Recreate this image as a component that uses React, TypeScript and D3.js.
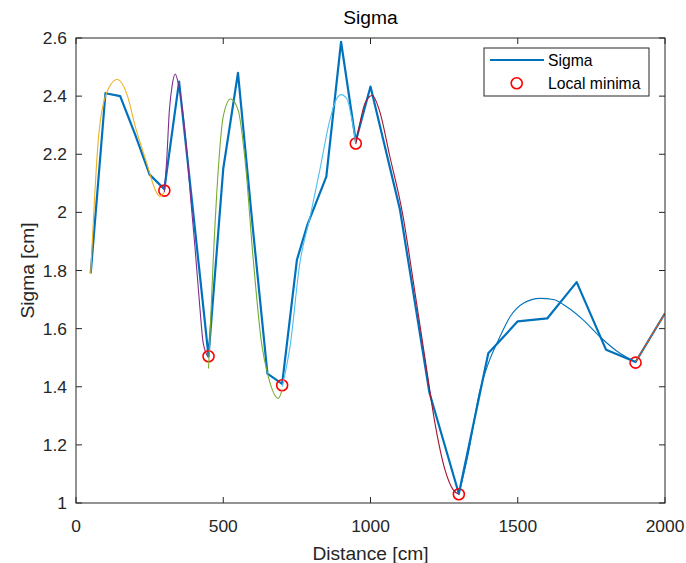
import React from "react";
import * as d3 from "d3";

// ---- data ----
const sigmaX = [50, 100, 150, 200, 250, 300, 350, 400, 450, 500, 550, 600, 650, 700, 750, 785, 850, 900, 950, 1000, 1100, 1200, 1300, 1400, 1500, 1600, 1700, 1800, 1900, 2000];
const sigmaY = [1.79, 2.41, 2.4, 2.27, 2.13, 2.08, 2.45, 1.98, 1.505, 2.15, 2.48, 1.95, 1.445, 1.41, 1.836, 1.955, 2.123, 2.587, 2.245, 2.433, 2.01, 1.38, 1.032, 1.515, 1.625, 1.635, 1.76, 1.527, 1.485, 1.653];

const minimaX = [300, 450, 700, 950, 1300, 1900];
const minimaY = [2.075, 1.505, 1.405, 2.237, 1.03, 1.483];

const fit1X = [50, 75, 100, 140, 175, 200, 240, 270, 285, 300];
const fit1Y = [1.79, 2.24, 2.4, 2.457, 2.4, 2.3, 2.17, 2.075, 2.055, 2.07];
const fit2X = [300, 308, 317, 327, 337, 348, 362, 379, 390, 404, 420, 432, 450];
const fit2Y = [2.07, 2.18, 2.35, 2.44, 2.476, 2.44, 2.35, 2.18, 2.04, 1.88, 1.68, 1.55, 1.5];
const fit3X = [450, 466, 483, 500, 525, 551, 574, 602, 630, 653, 687, 700];
const fit3Y = [1.463, 1.836, 2.146, 2.33, 2.39, 2.35, 2.18, 1.836, 1.55, 1.435, 1.36, 1.39];
const fit4X = [700, 727, 760, 795, 828, 862, 880, 900, 920, 935, 950];
const fit4Y = [1.4, 1.54, 1.825, 1.985, 2.146, 2.318, 2.38, 2.405, 2.39, 2.33, 2.24];
const fit5X = [950, 964, 981, 1006, 1032, 1064, 1110, 1148, 1186, 1219, 1253, 1281, 1300];
const fit5Y = [2.235, 2.307, 2.375, 2.402, 2.345, 2.2, 1.99, 1.744, 1.492, 1.274, 1.114, 1.045, 1.03];
const fit6X = [1300, 1330, 1372, 1400, 1434, 1474, 1519, 1576, 1621, 1666, 1722, 1779, 1847, 1900];
const fit6Y = [1.03, 1.16, 1.389, 1.48, 1.56, 1.641, 1.687, 1.704, 1.7, 1.675, 1.63, 1.572, 1.515, 1.486];
const fit7X = [1900, 2000];
const fit7Y = [1.486, 1.653];

const xTicks = [0, 500, 1000, 1500, 2000];
const yTicks = [1, 1.2, 1.4, 1.6, 1.8, 2, 2.2, 2.4, 2.6];
const fitColors = ["#EDB120", "#7E2F8E", "#77AC30", "#4DBEEE", "#A2142F", "#0072BD", "#D95319"];

const W = 686, H = 563;
const L = 76, R = 665, T = 38, B = 503;
const AX = "#262626";
const FONT = "'Liberation Sans', Arial, Helvetica, sans-serif";

export default function App() {
  const x = d3.scaleLinear().domain([0, 2000]).range([L, R]);
  const y = d3.scaleLinear().domain([1, 2.6]).range([B, T]);
  const line = d3.line<[number, number]>().x(d => x(d[0])).y(d => y(d[1]));
  const smooth = d3.line<[number, number]>().x(d => x(d[0])).y(d => y(d[1])).curve(d3.curveMonotoneX);

  const sigma = sigmaX.map((v, i) => [v, sigmaY[i]] as [number, number]);
  const fits = [
    [fit1X, fit1Y], [fit2X, fit2Y], [fit3X, fit3Y], [fit4X, fit4Y],
    [fit5X, fit5Y], [fit6X, fit6Y], [fit7X, fit7Y],
  ].map(([xs, ys]) => xs.map((v, i) => [v, ys[i]] as [number, number]));

  const tickLen = 6;
  return (
    <svg width={W} height={H} style={{ position: "absolute", left: 0, top: 0, background: "#fff" }} fontFamily={FONT}>
      <rect x={0} y={0} width={W} height={H} fill="#fff" />
      <defs>
        <clipPath id="plotclip">
          <rect x={L} y={T} width={R - L} height={B - T} />
        </clipPath>
      </defs>
      {/* data */}
      <g clipPath="url(#plotclip)">
        <path d={line(sigma) || ""} fill="none" stroke="#0072BD" strokeWidth={2.2} strokeLinejoin="round" />
        {minimaX.map((v, i) => (
          <circle key={i} cx={x(v)} cy={y(minimaY[i])} r={5.5} fill="none" stroke="#FF0000" strokeWidth={1.6} />
        ))}
        {fits.map((pts, i) => (
          <path key={i} d={smooth(pts) || ""} fill="none" stroke={fitColors[i]} strokeWidth={1.1} />
        ))}
      </g>
      {/* box */}
      <rect x={L} y={T} width={R - L} height={B - T} fill="none" stroke={AX} strokeWidth={1} />
      {/* ticks */}
      {xTicks.map(t => (
        <g key={"x" + t}>
          <line x1={x(t)} x2={x(t)} y1={B} y2={B - tickLen} stroke={AX} />
          <line x1={x(t)} x2={x(t)} y1={T} y2={T + tickLen} stroke={AX} />
          <text x={x(t)} y={532} textAnchor="middle" fontSize={17.4} fill={AX}>{t}</text>
        </g>
      ))}
      {yTicks.map(t => (
        <g key={"y" + t}>
          <line x1={L} x2={L + tickLen} y1={y(t)} y2={y(t)} stroke={AX} />
          <line x1={R} x2={R - tickLen} y1={y(t)} y2={y(t)} stroke={AX} />
          <text x={67} y={y(t)} dy="0.35em" textAnchor="end" fontSize={17.4} fill={AX}>{d3.format("")(t)}</text>
        </g>
      ))}
      {/* labels */}
      <text x={(L + R) / 2} y={24} textAnchor="middle" fontSize={19.2} fill="#000">Sigma</text>
      <text x={(L + R) / 2} y={560} textAnchor="middle" fontSize={19.2} fill={AX}>Distance [cm]</text>
      <text transform={`translate(34,${(T + B) / 2}) rotate(-90)`} textAnchor="middle" fontSize={19.2} fill={AX}>Sigma [cm]</text>
      {/* legend */}
      <rect x={484} y={48} width={165} height={48} fill="#fff" stroke={AX} strokeWidth={1} />
      <line x1={490} x2={544} y1={60} y2={60} stroke="#0072BD" strokeWidth={2.2} />
      <text x={548} y={61} dy="0.35em" fontSize={15.7} fill="#000">Sigma</text>
      <circle cx={516.7} cy={83.3} r={5.5} fill="none" stroke="#FF0000" strokeWidth={1.6} />
      <text x={548} y={84} dy="0.35em" fontSize={15.7} fill="#000">Local minima</text>
    </svg>
  );
}
